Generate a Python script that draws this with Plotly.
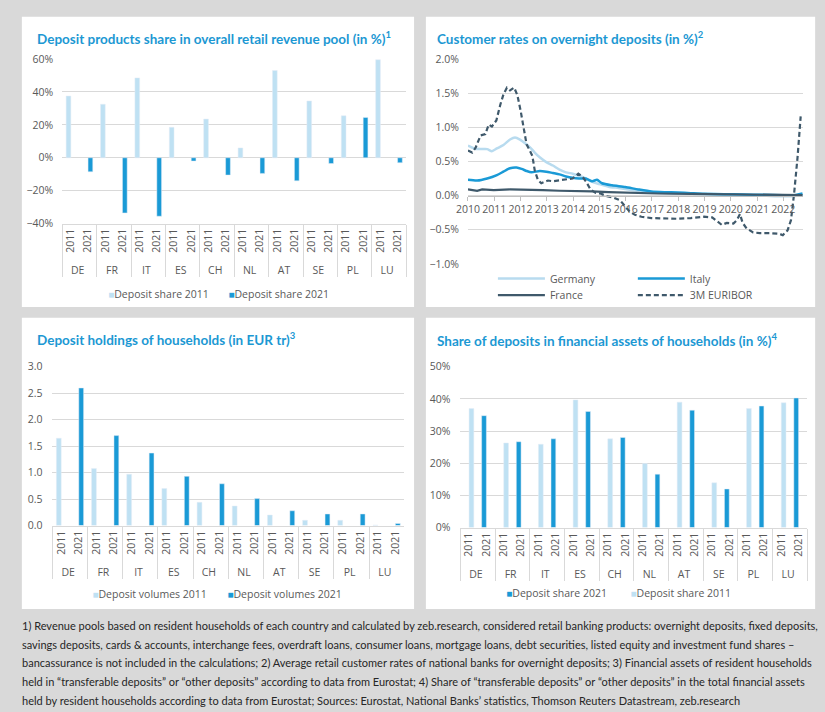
import plotly.graph_objects as go

# ---------------- data ----------------
countries = ["DE", "FR", "IT", "ES", "CH", "NL", "AT", "SE", "PL", "LU"]
years = ["2011", "2021"]

# Deposit products share in overall retail revenue pool (in %)
rev_share_2011 = [37.5, 32.5, 48.5, 18.5, 23.5, 6.0, 53.0, 34.5, 25.5, 59.5]
rev_share_2021 = [-8.5, -33.5, -35.5, -2.0, -10.5, -9.5, -14.0, -3.5, 24.5, -3.0]

# Deposit holdings of households (EUR tr)
vol_2011 = [1.65, 1.08, 0.97, 0.70, 0.44, 0.37, 0.20, 0.10, 0.10, 0.01]
vol_2021 = [2.60, 1.70, 1.37, 0.93, 0.79, 0.51, 0.28, 0.22, 0.22, 0.04]

# Share of deposits in financial assets of households (in %)
fa_share_2011 = [37.0, 26.3, 25.9, 39.7, 27.6, 19.9, 39.0, 13.9, 37.0, 38.8]
fa_share_2021 = [34.8, 26.7, 27.6, 36.1, 28.0, 16.6, 36.5, 12.0, 37.8, 40.3]

# Customer rates on overnight deposits (in %)
euribor_t = [2010.00, 2010.16, 2010.29, 2010.48, 2010.66, 2010.79, 2010.91, 2011.08, 2011.23, 2011.35,
             2011.48, 2011.60, 2011.76, 2011.88, 2012.00, 2012.13, 2012.23, 2012.35, 2012.45, 2012.54,
             2012.66, 2012.79, 2012.91, 2013.04, 2013.23, 2013.48, 2013.73, 2013.98, 2014.20, 2014.35,
             2014.50, 2014.66, 2014.85, 2015.04, 2015.29, 2015.54, 2015.79, 2015.98, 2016.16, 2016.35,
             2016.60, 2016.98, 2017.48, 2017.98, 2018.48, 2018.98, 2019.29, 2019.48, 2019.66, 2019.85,
             2020.10, 2020.23, 2020.35, 2020.45, 2020.60, 2020.85, 2021.10, 2021.48, 2021.85, 2021.98,
             2022.16, 2022.29, 2022.41, 2022.54, 2022.66]
euribor_v = [0.66, 0.63, 0.70, 0.88, 0.90, 1.04, 1.01, 1.10, 1.33, 1.48,
             1.58, 1.54, 1.58, 1.47, 1.25, 0.95, 0.75, 0.66, 0.58, 0.37,
             0.23, 0.18, 0.20, 0.22, 0.21, 0.22, 0.23, 0.25, 0.32, 0.28,
             0.20, 0.09, 0.04, 0.03, -0.01, -0.03, -0.07, -0.15, -0.24, -0.28,
             -0.31, -0.33, -0.34, -0.34, -0.33, -0.31, -0.32, -0.38, -0.43, -0.40,
             -0.41, -0.36, -0.27, -0.40, -0.48, -0.54, -0.55, -0.55, -0.56, -0.58,
             -0.51, -0.36, 0.03, 0.56, 1.16]

germany_t = [2010.00, 2010.23, 2010.48, 2010.73, 2010.91, 2011.10, 2011.35, 2011.60, 2011.79, 2011.98,
             2012.16, 2012.35, 2012.54, 2012.73, 2012.98, 2013.23, 2013.48, 2013.73, 2013.98, 2014.23,
             2014.48, 2014.73, 2014.98, 2015.35, 2015.73, 2016.23, 2016.73, 2017.23, 2017.98, 2018.98,
             2019.98, 2020.98, 2021.73, 2022.23, 2022.73]
germany_v = [0.73, 0.69, 0.68, 0.68, 0.65, 0.69, 0.74, 0.82, 0.85, 0.82,
             0.77, 0.71, 0.63, 0.56, 0.49, 0.44, 0.38, 0.34, 0.32, 0.29,
             0.25, 0.20, 0.17, 0.13, 0.11, 0.08, 0.05, 0.04, 0.03, 0.02,
             0.01, 0.005, -0.01, -0.01, 0.005]

italy_t = [2010.00, 2010.35, 2010.73, 2011.10, 2011.35, 2011.60, 2011.85, 2012.04, 2012.23, 2012.41,
           2012.73, 2012.98, 2013.23, 2013.48, 2013.73, 2013.98, 2014.23, 2014.48, 2014.73, 2014.91,
           2015.10, 2015.48, 2015.98, 2016.48, 2016.98, 2017.48, 2017.98, 2018.48, 2018.98, 2019.73,
           2020.48, 2021.23, 2021.98, 2022.35, 2022.73]
italy_v = [0.23, 0.22, 0.25, 0.30, 0.35, 0.40, 0.41, 0.39, 0.36, 0.34,
           0.36, 0.35, 0.33, 0.31, 0.28, 0.26, 0.25, 0.25, 0.21, 0.23,
           0.18, 0.15, 0.125, 0.09, 0.06, 0.05, 0.045, 0.035, 0.025, 0.02,
           0.015, 0.01, 0.005, 0.0, 0.03]

france_t = [2010.00, 2010.35, 2010.54, 2010.98, 2011.60, 2012.23, 2012.85, 2013.48, 2014.10, 2014.73,
            2015.35, 2015.98, 2017.23, 2018.48, 2019.73, 2020.98, 2022.23, 2022.73]
france_v = [0.09, 0.07, 0.09, 0.08, 0.09, 0.09, 0.08, 0.07, 0.07, 0.06,
            0.05, 0.04, 0.03, 0.025, 0.02, 0.015, 0.005, 0.005]

footnote_lines = [
    "1) Revenue pools based on resident households of each country and calculated by zeb.research, considered retail banking products: overnight deposits, fixed deposits,",
    "savings deposits, cards & accounts, interchange fees, overdraft loans, consumer loans, mortgage loans, debt securities, listed equity and investment fund shares \u2013",
    "bancassurance is not included in the calculations; 2) Average retail customer rates of national banks for overnight deposits; 3) Financial assets of resident households",
    "held in \u201ctransferable deposits\u201d or \u201cother deposits\u201d according to data from Eurostat; 4) Share of \u201ctransferable deposits\u201d or \u201cother deposits\u201d in the total financial assets",
    "held by resident households according to data from Eurostat; Sources: Eurostat, National Banks\u2019 statistics, Thomson Reuters Datastream, zeb.research",
]

# ---------------- styling ----------------
W, H = 825, 712
LIGHT = "#bfe1f3"
DARK = "#1a9ad6"
SLATE = "#3f596b"
GERMANY = "#b8dbef"
GRID = "#d9d9d9"
TXT = "#595959"
BG = "#d9d9d9"
TITLE = "#1c98d3"
FONT = "Open Sans"
TFONT = "Lato"


def px(x):
    return x / W


def py(y):
    return 1 - y / H


cat = [[c for c in countries for _ in years], [y for _ in countries for y in years]]


def slot(values, year):
    out = []
    for v in values:
        for y in years:
            out.append(v if y == year else None)
    return out


fig = go.Figure()

# --- top left ---
fig.add_trace(go.Bar(x=cat, y=slot(rev_share_2011, "2011"), marker_color=LIGHT, xaxis="x", yaxis="y",
                     name="Deposit share 2011", showlegend=False))
fig.add_trace(go.Bar(x=cat, y=slot(rev_share_2021, "2021"), marker_color=DARK, xaxis="x", yaxis="y",
                     name="Deposit share 2021", showlegend=False))

# --- top right ---
fig.add_trace(go.Scatter(x=germany_t, y=germany_v, mode="lines", line=dict(color=GERMANY, width=2.5, shape="spline", smoothing=0.6),
                         xaxis="x2", yaxis="y2", name="Germany", legend="legend5"))
fig.add_trace(go.Scatter(x=italy_t, y=italy_v, mode="lines", line=dict(color=DARK, width=2.5, shape="spline", smoothing=0.6),
                         xaxis="x2", yaxis="y2", name="Italy", legend="legend6"))
fig.add_trace(go.Scatter(x=france_t, y=france_v, mode="lines", line=dict(color=SLATE, width=2.2),
                         xaxis="x2", yaxis="y2", name="France", legend="legend7"))
fig.add_trace(go.Scatter(x=euribor_t, y=euribor_v, mode="lines", line=dict(color=SLATE, width=2.2, dash="5px,3px"),
                         xaxis="x2", yaxis="y2", name="3M EURIBOR", legend="legend8"))

# --- bottom left ---
fig.add_trace(go.Bar(x=cat, y=slot(vol_2011, "2011"), marker_color=LIGHT, xaxis="x3", yaxis="y3",
                     name="Deposit volumes 2011", showlegend=False))
fig.add_trace(go.Bar(x=cat, y=slot(vol_2021, "2021"), marker_color=DARK, xaxis="x3", yaxis="y3",
                     name="Deposit volumes 2021", showlegend=False))

# --- bottom right (2021 series first) ---
fig.add_trace(go.Bar(x=cat, y=slot(fa_share_2021, "2021"), marker_color=DARK, xaxis="x4", yaxis="y4",
                     name="Deposit share 2021", showlegend=False))
fig.add_trace(go.Bar(x=cat, y=slot(fa_share_2011, "2011"), marker_color=LIGHT, xaxis="x4", yaxis="y4",
                     name="Deposit share 2011", showlegend=False))

# legend entries for the bar charts (square drawn inline with the label)
bar_legend_items = [
    ("Deposit share 2011", LIGHT, "legend", 100, 293),
    ("Deposit share 2021", DARK, "legend2", 222, 293),
    ("Deposit volumes 2011", LIGHT, "legend3", 84, 599),
    ("Deposit volumes 2021", DARK, "legend4", 221, 599),
    ("Deposit share 2021", DARK, "legend9", 504, 598),
    ("Deposit share 2011", LIGHT, "legend10", 630, 598),
]
legend_layout = {}
for name, col, lg, lx, ly in bar_legend_items:
    fig.add_trace(go.Scatter(x=[None], y=[None], mode="markers", marker=dict(size=1, color="rgba(0,0,0,0)"),
                             name=f'<span style="color:{col};font-size:10px">\u25a0</span>{name}',
                             legend=lg, xaxis="x", yaxis="y"))
    legend_layout[lg] = dict(x=px(lx - 43), y=py(ly), xanchor="left", yanchor="middle",
                             bgcolor="rgba(0,0,0,0)", font=dict(family=FONT, size=10.5, color=TXT))

line_legend_pos = {"legend5": (493, 277), "legend6": (635, 277), "legend7": (493, 294), "legend8": (635, 294)}
for lg, (lx, ly) in line_legend_pos.items():
    legend_layout[lg] = dict(x=px(lx - 5), y=py(ly), xanchor="left", yanchor="middle", itemwidth=47,
                             bgcolor="rgba(0,0,0,0)", font=dict(family=FONT, size=10.5, color=TXT))

tickfont = dict(family=FONT, size=10.5, color=TXT)

catax = dict(type="multicategory", tickangle=-90, showdividers=True, dividercolor=GRID, dividerwidth=1,
             showline=True, linecolor=GRID, linewidth=1, showgrid=False, ticks="", tickfont=tickfont,
             fixedrange=True)

fig.update_layout(
    width=W, height=H, margin=dict(l=0, r=0, t=0, b=0),
    paper_bgcolor=BG, plot_bgcolor="rgba(0,0,0,0)",
    barmode="group", bargap=0.45, bargroupgap=0,
    font=dict(family=FONT, color=TXT),
    xaxis=dict(domain=[px(51), px(400)], anchor="y", **catax),
    yaxis=dict(domain=[py(221), py(53)], anchor="x", range=[-40, 60], dtick=20, ticksuffix="%",
               gridcolor=GRID, zeroline=False, showline=False, tickfont=tickfont, ticklabelstandoff=8),
    xaxis2=dict(domain=[px(462.7), px(803)], anchor="free", position=py(192.3), range=[2010, 2022.76],
                tickmode="linear", tick0=2010, dtick=1, ticks="outside", ticklen=4, tickcolor="#bfbfbf",
                showline=True, linecolor="#bfbfbf", showgrid=False, zeroline=False, tickfont=tickfont),
    yaxis2=dict(domain=[py(262), py(53)], anchor="x2", range=[-1, 2], dtick=0.5, tickformat=".1f",
                ticksuffix="%", gridcolor=GRID, zeroline=False, tickfont=tickfont, ticklabelstandoff=8),
    xaxis3=dict(domain=[px(41), px(398)], anchor="y3", **catax),
    yaxis3=dict(domain=[py(529), py(367)], anchor="x3", range=[0, 3], dtick=0.5, tickformat=".1f",
                gridcolor=GRID, zeroline=False, tickfont=tickfont, ticklabelstandoff=9),
    xaxis4=dict(domain=[px(455), px(807)], anchor="y4", **catax),
    yaxis4=dict(domain=[py(531), py(367)], anchor="x4", range=[0, 50], dtick=10, ticksuffix="%",
                gridcolor=GRID, zeroline=False, tickfont=tickfont, ticklabelstandoff=9),
    **legend_layout,
)

# white panels
for (x0, y0, x1, y1) in [(10, 10, 408, 306), (420, 10, 815, 306), (10, 317, 408, 614), (420, 317, 815, 614)]:
    fig.add_shape(type="rect", xref="paper", yref="paper", x0=px(x0), x1=px(x1), y0=py(y1), y1=py(y0),
                  fillcolor="white", line=dict(width=0), layer="below")

titles = [
    ("Deposit products share in overall retail revenue pool (in %)<sup>1</sup>", 25, 32),
    ("Customer rates on overnight deposits (in %)<sup>2</sup>", 431, 32),
    ("Deposit holdings of households (in EUR tr)<sup>3</sup>", 25, 339),
    ("Share of deposits in financial assets of households (in %)<sup>4</sup>", 431, 340),
]
for text, tx, ty in titles:
    fig.add_annotation(text=f"<b>{text}</b>", xref="paper", yref="paper", x=px(tx - 2), y=py(ty),
                       xanchor="left", yanchor="middle", showarrow=False,
                       font=dict(family=TFONT, size=13.5, color=TITLE))

for i, line in enumerate(footnote_lines):
    fig.add_annotation(text=line, xref="paper", yref="paper", x=px(8), y=py(631 + 19 * i),
                       xanchor="left", yanchor="middle", showarrow=False,
                       font=dict(family="Lato", size=11, color="#262626"))

fig.write_html("out.html", config={"displayModeBar": False},
               post_script="document.body.style.margin='0px';")
